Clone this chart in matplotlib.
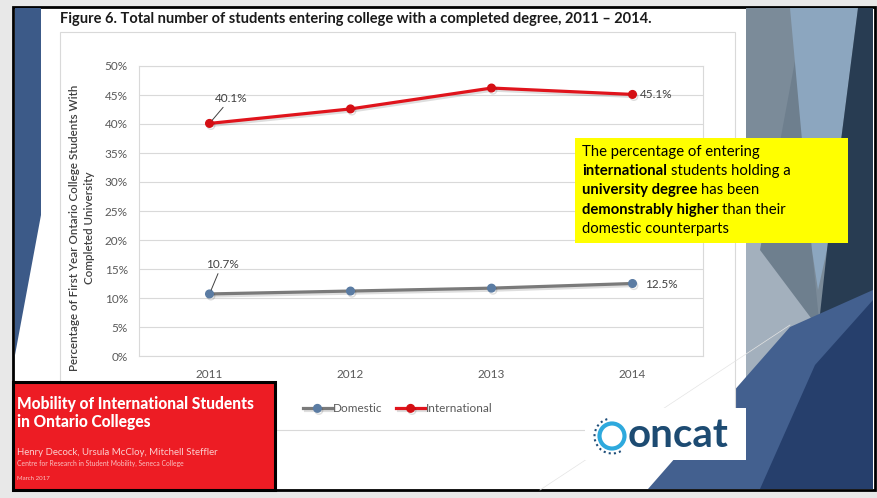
import matplotlib
matplotlib.use("Agg")
import matplotlib.pyplot as plt
from matplotlib import patheffects as pe
from matplotlib.patches import Rectangle, Polygon, Circle, Arc

plt.rcParams['font.family'] = ['Lato', 'DejaVu Sans']

# data
years = ["2011", "2012", "2013", "2014"]
domestic = [10.7, 11.2, 11.7, 12.5]
international = [40.1, 42.6, 46.2, 45.1]
series_names = ["Domestic", "International"]
y_ticks = [0, 5, 10, 15, 20, 25, 30, 35, 40, 45, 50]

W, H = 878, 498
fig = plt.figure(figsize=(W / 100, H / 100), dpi=100, facecolor="#e8e8e8")


def px_axes(z):
    a = fig.add_axes([0, 0, 1, 1], zorder=z)
    a.set_xlim(0, W)
    a.set_ylim(H, 0)
    a.axis("off")
    a.patch.set_alpha(0)
    return a


bg = px_axes(0)
top = px_axes(3)

# slide
bg.add_patch(Rectangle((13, 7), 862, 483, facecolor="white", edgecolor="black", lw=2))
bg.add_patch(Polygon([(15, 8), (41, 8), (41, 215), (15, 355)], color="#3c5a88", lw=0))

# facets on the right edge
bg.add_patch(Rectangle((746, 8), 127, 481, color="#7b8b99", lw=0))
bg.add_patch(Polygon([(746, 170), (790, 280), (825, 330), (746, 377)], color="#a3b0bd", lw=0))
bg.add_patch(Polygon([(797, 50), (812, 250), (820, 330), (760, 250)], color="#6e7f8e", lw=0))
bg.add_patch(Polygon([(790, 8), (858, 8), (827, 250), (818, 290), (812, 250)], color="#8ca6bf", lw=0))
bg.add_patch(Polygon([(858, 8), (873, 8), (873, 330), (815, 360), (827, 250)], color="#283c52", lw=0))
bg.add_patch(Polygon([(648, 489), (746, 377), (790, 327), (873, 290), (873, 489)], color="#43608f", lw=0))
bg.add_patch(Polygon([(760, 489), (815, 365), (873, 300), (873, 489)], color="#263f6c", lw=0))
bg.plot([540, 790], [490, 325], color="#e4e4e4", lw=0.5)

# chart frame and title
bg.add_patch(Rectangle((60, 32), 675, 398, facecolor="white", edgecolor="#d9d9d9", lw=0.8))
bg.text(60, 19, "Figure 6. Total number of students entering college with a completed degree, 2011 \u2013 2014.",
        fontsize=10.55, fontweight="bold", color="#1a1a1a", va="center", ha="left")

# line chart
ax = fig.add_axes([139 / W, 1 - 356 / H, 564 / W, 290 / H], zorder=1)
x = range(len(years))
shadow = [pe.SimpleLineShadow(offset=(1, -1.5), alpha=0.13), pe.Normal()]
l1, = ax.plot(x, domestic, color="#7a7a7a", lw=2.3, marker="o", ms=5.5,
              mfc="#5b7ca3", mec="#5b7ca3", path_effects=shadow)
l2, = ax.plot(x, international, color="#e0141c", lw=2.3, marker="o", ms=5.5,
              mfc="#d40f14", mec="#d40f14", path_effects=shadow)

ax.set_xlim(-0.5, len(years) - 0.5)
ax.set_ylim(0, 50)
ax.set_xticks(list(x))
ax.set_xticklabels(years)
ax.set_yticks(y_ticks)
ax.set_yticklabels([f"{v}%" for v in y_ticks])
ax.tick_params(length=0, labelsize=8.5, labelcolor="#595959")
ax.tick_params(axis="y", pad=8)
ax.tick_params(axis="x", pad=9)
ax.yaxis.grid(True, color="#d9d9d9", lw=0.8)
ax.set_axisbelow(True)
for s in ax.spines.values():
    s.set_color("#d9d9d9")
    s.set_linewidth(0.8)

# value labels
lab = dict(fontsize=8.5, color="#404040", textcoords="offset points")
lead = dict(arrowstyle="-", color="#404040", lw=0.7, shrinkA=1, shrinkB=3)
ax.annotate(f"{international[0]}%", (0, international[0]), xytext=(15.5, 18.3),
            ha="center", va="center", arrowprops=lead, **lab)
ax.annotate(f"{domestic[0]}%", (0, domestic[0]), xytext=(9, 21.5),
            ha="center", va="center", arrowprops=lead, **lab)
ax.annotate(f"{international[-1]}%", (3, international[-1]), xytext=(5.5, 0),
            ha="left", va="center", **lab)
ax.annotate(f"{domestic[-1]}%", (3, domestic[-1]), xytext=(9, -1),
            ha="left", va="center", **lab)

fig.text(82 / W, 1 - 228 / H,
         "Percentage of First Year Ontario College Students With\nCompleted University",
         rotation=90, ha="center", va="center", multialignment="center",
         fontsize=8.4, fontweight="semibold", color="#404040", linespacing=1.35)

fig.legend([l1, l2], series_names, loc="center", bbox_to_anchor=(398 / W, 1 - 409 / H),
           ncol=2, frameon=False, fontsize=8.5, labelcolor="#595959",
           handlelength=2.4, handletextpad=0.1, columnspacing=1.2)

# report card, bottom left
top.add_patch(Rectangle((13, 382), 262, 108, facecolor="#ed1c24", edgecolor="black", lw=2.2))
top.text(17, 404, "Mobility of International Students", color="white", fontsize=11.2,
         fontweight="black", va="center")
top.text(17, 422, "in Ontario Colleges", color="white", fontsize=11.2,
         fontweight="black", va="center")
top.text(17, 452, "Henry Decock, Ursula McCloy, Mitchell Steffler", color="#fbd0d0",
         fontsize=6.9, va="center")
top.text(17, 463, "Centre for Research in Student Mobility, Seneca College", color="#f9c0c0",
         fontsize=4.9, va="center")
top.text(17, 478, "March 2017", color="#f9c0c0", fontsize=4.4, va="center")

# callout
top.add_patch(Rectangle((575, 138), 273, 105, color="#ffff00", lw=0))
callout = [
    [("The percentage of entering", False)],
    [("international", True), ("students holding a", False)],
    [("university degree", True), ("has been", False)],
    [("demonstrably higher", True), ("than their", False)],
    [("domestic counterparts", False)],
]
rend = fig.canvas.get_renderer()
cfs = 10.7


def width_of(s, bold):
    t = top.text(0, 0, s, fontsize=cfs, fontweight="bold" if bold else "normal")
    w = t.get_window_extent(rend).width
    t.remove()
    return w


space = width_of("x x", False) - width_of("xx", False)
for i, parts in enumerate(callout):
    cx = 582
    cy = 151.5 + i * 19.4
    for s, bold in parts:
        t = top.text(cx, cy, s, fontsize=cfs, fontweight="bold" if bold else "normal",
                     color="black", va="center", ha="left")
        cx += t.get_window_extent(rend).width + space

# logo
top.add_patch(Rectangle((585, 408), 161, 52, color="white", lw=0))
top.add_patch(Circle((612, 436), 12.5, fill=False, edgecolor="#2ea9dd", lw=3))
top.add_patch(Arc((612, 436), 35, 35, theta1=60, theta2=260, edgecolor="#1f4e79",
                  lw=1.5, ls=(0, (1, 1.5))))
top.text(628, 435, "oncat", fontsize=29, fontweight="bold", color="#1d4b72",
         va="center", ha="left")

fig.savefig("out.png", dpi=100, facecolor=fig.get_facecolor())
